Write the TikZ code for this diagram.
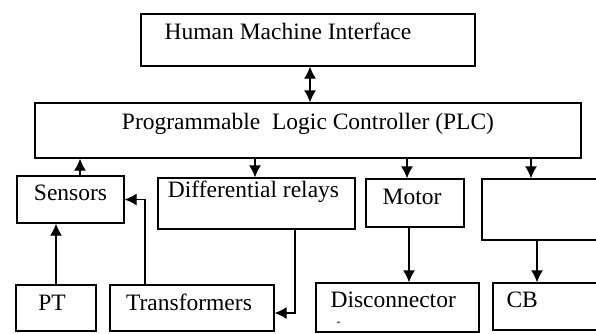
\documentclass[tikz,border=0pt]{standalone}
\usepackage{fontspec}
\setmainfont{Liberation Serif}
\usetikzlibrary{arrows.meta, positioning}

\begin{document}
\begin{tikzpicture}[x=1pt, y=-1pt, >={Latex[length=12pt,width=12pt]},
  block/.style={draw, line width=1.3pt, inner sep=0pt},
  lbl/.style={font=\fontsize{23.5}{27}\selectfont, inner sep=0pt},
  link/.style={line width=1.3pt}]
  \useasboundingbox (0,0) rectangle (596,333);

  % boxes
  \node [block, minimum width=334pt, minimum height=52pt] (hmi) at (308,40) {};
  \node [block, minimum width=546pt, minimum height=55pt] (plc) at (308,130.5) {};
  \node [block, minimum width=107pt, minimum height=47pt] (sens) at (70.5,199.5) {};
  \node [block, minimum width=197pt, minimum height=51pt] (diff) at (256.5,203.5) {};
  \node [block, minimum width=98pt, minimum height=48pt] (motor) at (415,203) {};
  \node [block, minimum width=118pt, minimum height=61pt] (blank) at (541,209.5) {};
  \node [block, minimum width=80pt, minimum height=46pt] (pt) at (56,308) {};
  \node [block, minimum width=164pt, minimum height=46pt] (trans) at (192,308) {};
  \node [block, minimum width=163pt, minimum height=49pt] (disc) at (397.5,307.5) {};
  \node [block, minimum width=107pt, minimum height=47pt] (cb) at (546.5,306.5) {};

  % texts
  \node [lbl] (hmit) at ([xshift=-20pt,yshift=-18pt]hmi.north) {Human Machine Interface};
  \node [lbl] (plct) at ([yshift=-22pt]plc.north) {Programmable\ \ Logic Controller (PLC)};
  \node [lbl] (senst) at ([yshift=-17pt]sens.north) {Sensors};
  \node [lbl] (difft) at ([xshift=-3pt,yshift=-14pt]diff.north) {Differential relays};
  \node [lbl] (motort) at ([xshift=-3pt,yshift=-19pt]motor.north) {Motor};
  \node [lbl] (ptt) at ([xshift=-4pt,yshift=-18pt]pt.north) {PT};
  \node [lbl] (transt) at ([xshift=-3pt,yshift=-18pt]trans.north) {Transformers};
  \node [lbl, anchor=north west, align=left] (disct) at ([xshift=15pt,yshift=-9pt]disc.north west)
    {Disconnector\\[-9pt]\hspace{6pt}{\fontsize{12}{12}\selectfont -}};
  \node [lbl, anchor=west] (cbt) at ([xshift=14pt,yshift=-17pt]cb.north west) {CB};

  % connectors
  \draw [<->, link] ([xshift=2pt]hmi.south) -- ([xshift=2pt]plc.north);
  \draw [->, link] ([xshift=9.5pt]sens.north) -- ([xshift=9.5pt]sens.north |- plc.south);
  \draw [->, link] ([xshift=-1.5pt]diff.north |- plc.south) -- ([xshift=-1.5pt]diff.north);
  \draw [->, link] ([xshift=-8pt]motor.north |- plc.south) -- ([xshift=-8pt]motor.north);
  \draw [->, link] ([xshift=-10pt]blank.north |- plc.south) -- ([xshift=-10pt]blank.north);
  \draw [->, link] (pt.north) -- (pt.north |- sens.south);
  \draw [->, link] ([xshift=-47pt]trans.north) |- (sens.east);
  \draw [->, link] ([xshift=38.5pt]diff.south) |- ([yshift=-5pt]trans.east);
  \draw [->, link] ([xshift=-6pt]motor.south) -- ([xshift=-6pt]motor.south |- disc.north);
  \draw [->, link] ([xshift=-4pt]blank.south) -- ([xshift=-4pt]blank.south |- cb.north);
\end{tikzpicture}
\end{document}
